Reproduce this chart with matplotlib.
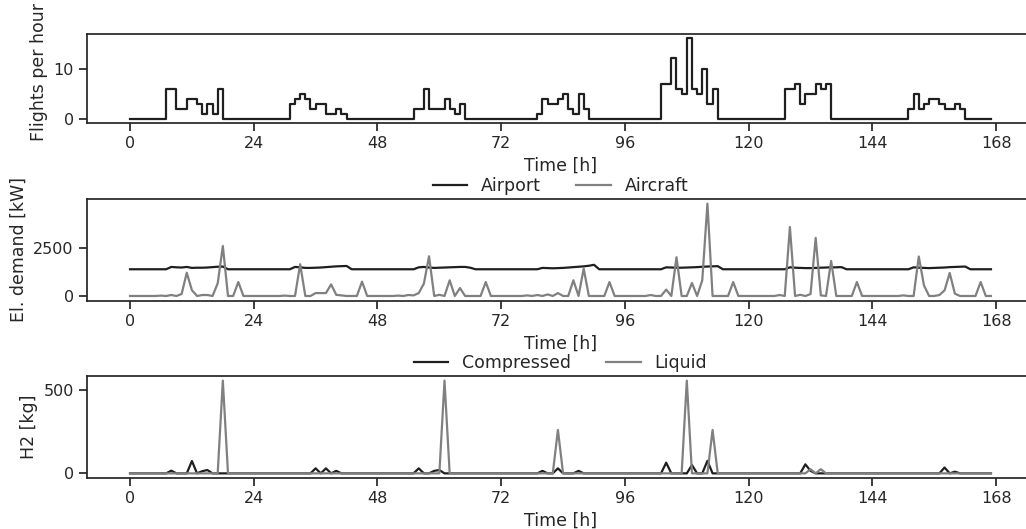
import numpy as np
import matplotlib
matplotlib.use("Agg")
import matplotlib.pyplot as plt

# Hours of the week
hours = np.arange(168)

# Flights per hour
flights = [0] * 168
flight_points = {
    7: 6, 8: 6, 9: 2, 10: 2, 11: 4, 12: 4, 13: 3, 14: 1, 15: 3, 16: 1, 17: 6,
    31: 3, 32: 4, 33: 5, 34: 4, 35: 2, 36: 3, 37: 3, 38: 1, 39: 1, 40: 2, 41: 1,
    55: 2, 56: 2, 57: 6, 58: 2, 59: 2, 60: 2, 61: 4, 62: 2, 63: 1, 64: 3,
    79: 1, 80: 4, 81: 3, 82: 3, 83: 4, 84: 5, 85: 2, 86: 1, 87: 5, 88: 2,
    103: 7, 104: 7, 105: 12, 106: 6, 107: 5, 108: 16, 109: 6, 110: 5, 111: 10, 112: 3, 113: 6,
    127: 6, 128: 6, 129: 7, 130: 3, 131: 5, 132: 5, 133: 7, 134: 6, 135: 7,
    151: 2, 152: 5, 153: 2, 154: 3, 155: 4, 156: 4, 157: 3, 158: 2, 159: 2, 160: 3, 161: 2,
}
for h, v in flight_points.items():
    flights[h] = v

# Electricity demand [kW]
airport = [1380] * 168
airport_points = {
    8: 1500, 9: 1480, 10: 1470, 11: 1500, 12: 1450, 13: 1460, 14: 1460, 15: 1470,
    16: 1490, 17: 1510, 18: 1520,
    32: 1500, 33: 1480, 34: 1450, 35: 1450, 36: 1460, 37: 1470, 38: 1490, 39: 1510,
    40: 1530, 41: 1540, 42: 1550,
    56: 1480, 57: 1500, 58: 1470, 59: 1450, 60: 1460, 61: 1470, 62: 1480, 63: 1490,
    64: 1500, 65: 1500, 66: 1460,
    80: 1450, 81: 1440, 82: 1430, 83: 1440, 84: 1450, 85: 1470, 86: 1490, 87: 1510,
    88: 1530, 89: 1560, 90: 1610,
    104: 1480, 105: 1470, 106: 1460, 107: 1460, 108: 1470, 109: 1480, 110: 1490,
    111: 1510, 112: 1520, 113: 1530, 114: 1540,
    128: 1480, 129: 1460, 130: 1450, 131: 1440, 132: 1440, 133: 1450, 134: 1460,
    135: 1470, 136: 1480, 137: 1480, 138: 1490,
    152: 1480, 153: 1460, 154: 1450, 155: 1440, 156: 1450, 157: 1460, 158: 1470,
    159: 1490, 160: 1500, 161: 1510, 162: 1520,
}
for h, v in airport_points.items():
    airport[h] = v

aircraft = [0] * 168
aircraft_points = {
    6: 20, 8: 50, 10: 100, 11: 1200, 12: 300, 14: 50, 15: 50, 17: 650, 18: 2580, 21: 720,
    30: 20, 33: 1640, 36: 150, 37: 150, 38: 150, 39: 600, 40: 60, 41: 30, 45: 740,
    52: 20, 54: 50, 55: 30, 56: 150, 57: 640, 58: 2050, 60: 60, 62: 810, 64: 410, 69: 720,
    77: 30, 79: 50, 81: 80, 83: 150, 86: 810, 88: 1415, 93: 720,
    101: 50, 104: 330, 106: 2000, 109: 670, 111: 810, 112: 4770, 117: 720,
    126: 50, 128: 3560, 130: 60, 132: 100, 133: 3000, 134: 30, 136: 1810, 141: 720,
    150: 30, 153: 2040, 154: 550, 157: 50, 158: 290, 159: 1190, 160: 120, 165: 720,
}
for h, v in aircraft_points.items():
    aircraft[h] = v

# Hydrogen demand [kg]
compressed = [0] * 168
compressed_points = {
    8: 16, 12: 74, 14: 13, 15: 20, 36: 30, 38: 30, 40: 15, 56: 30, 59: 15, 60: 20,
    80: 15, 83: 30, 87: 15, 104: 64, 109: 50, 112: 75, 131: 54, 132: 15, 158: 35, 160: 10,
}
for h, v in compressed_points.items():
    compressed[h] = v

liquid = [0] * 168
liquid_points = {18: 555, 61: 555, 83: 260, 108: 555, 113: 260, 132: 25, 134: 25}
for h, v in liquid_points.items():
    liquid[h] = v

xticks = list(range(0, 169, 24))

dark = "0.15"
plt.rcParams.update({
    "font.family": "DejaVu Sans",
    "text.color": dark,
    "axes.labelcolor": dark,
    "axes.edgecolor": dark,
    "axes.linewidth": 1.25,
    "xtick.color": dark,
    "ytick.color": dark,
    "xtick.major.size": 6,
    "ytick.major.size": 6,
    "xtick.major.width": 1.25,
    "ytick.major.width": 1.25,
    "xtick.labelsize": 11.5,
    "ytick.labelsize": 11.5,
    "axes.labelsize": 12.5,
    "legend.fontsize": 12.5,
})

fig = plt.figure(figsize=(10.26, 5.29), dpi=100)
W, H = 1026, 529

def add_ax(left, right, top, bottom):
    return fig.add_axes([left / W, 1 - bottom / H, (right - left) / W, (bottom - top) / H])

ax1 = add_ax(87, 1034, 34, 123.3)
ax2 = add_ax(87, 1034, 199, 300.6)
ax3 = add_ax(87, 1034, 376, 478)

# Flights
ax1.step(hours, flights, where="post", color="0.12", lw=1.6)
ax1.set_ylabel("Flights per hour")
ax1.yaxis.label.set_y(0.57)  # nudge up, but keep it inside the figure
ax1.set_yticks([0, 10])

# Electricity
ax2.plot(hours, airport, color="0.12", lw=1.6, label="Airport")
ax2.plot(hours, aircraft, color="gray", lw=1.6, label="Aircraft")
ax2.set_ylabel("El. demand [kW]")
ax2.set_yticks([0, 2500])
ax2.legend(loc="lower center", bbox_to_anchor=(0.5, 0.97), ncol=2, frameon=False,
           borderaxespad=0, columnspacing=2.0)

# Hydrogen
ax3.plot(hours, compressed, color="0.12", lw=1.6, label="Compressed")
ax3.plot(hours, liquid, color="gray", lw=1.6, label="Liquid")
ax3.set_ylabel("H2 [kg]")
ax3.set_yticks([0, 500])
ax3.legend(loc="lower center", bbox_to_anchor=(0.5, 0.97), ncol=2, frameon=False,
           borderaxespad=0, columnspacing=2.0)

for ax in (ax1, ax2, ax3):
    ax.set_xticks(xticks)
    ax.set_xlabel("Time [h]")

fig.savefig("out.png", dpi=100)
